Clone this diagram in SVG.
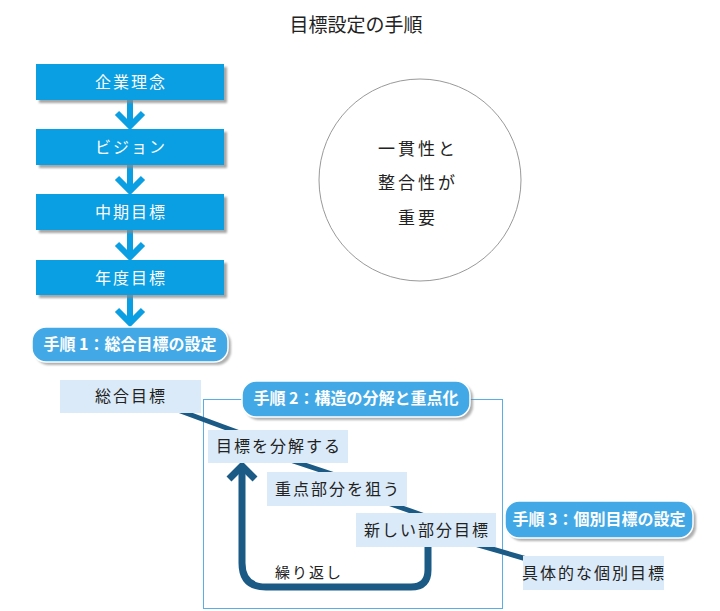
<svg xmlns="http://www.w3.org/2000/svg" width="720" height="611" viewBox="0 0 720 611">
<defs>
<style>
.t{font-family:"Noto Sans CJK JP","Noto Sans",sans-serif;}
.box{fill:#0a9ee2;}
.shd{fill:#8a8a8a;opacity:0.75;}
.bt{fill:#ffffff;font-size:16px;letter-spacing:2px;text-anchor:middle;}
.lb{fill:#daeaf8;}
.lt{fill:#222222;font-size:16px;letter-spacing:2px;text-anchor:middle;}
.pill{fill:#43a9e6;stroke:#ffffff;stroke-width:1.5;}
.pshd{fill:#7a7a7a;opacity:0.6;}
.pt{fill:#ffffff;font-size:16px;font-weight:bold;text-anchor:middle;}
.arr{fill:none;stroke:#0a9ee2;stroke-width:6;}
.dk{stroke:#1b5a84;stroke-width:5;fill:none;}
</style>
<filter id="blur" x="-10%" y="-10%" width="130%" height="140%"><feGaussianBlur stdDeviation="1.2"/></filter>
</defs>

<text class="t" x="356" y="32" font-size="19" text-anchor="middle" fill="#222">目標設定の手順</text>

<g id="frame">
<rect x="203.5" y="399.5" width="299" height="209" fill="none" stroke="#5aaee6" stroke-width="1"/>
</g>

<g id="connectors">
<path class="arr" d="M130,100 V125 M117,113 L130,126 L143,113"/>
<path class="arr" d="M130,165 V190 M117,178 L130,191 L143,178"/>
<path class="arr" d="M130,230 V256 M117,244 L130,257 L143,244"/>
<path class="arr" d="M130,295 V322 M117,310 L130,323 L143,310"/>
<line class="dk" x1="175" y1="409" x2="240" y2="433"/>
<line class="dk" x1="290" y1="460" x2="335" y2="475"/>
<line class="dk" x1="385" y1="502" x2="425" y2="516"/>
<line class="dk" x1="475" y1="544" x2="530" y2="560"/>
<path d="M428,547 V570 Q428,587 411,587 H266 Q242,587 242,563 V468" fill="none" stroke="#1b5a84" stroke-width="7"/>
<path d="M229,479 L242,466 L255,479" fill="none" stroke="#1b5a84" stroke-width="7"/>
</g>

<g id="n1"><rect class="shd" x="39" y="67" width="188" height="36" filter="url(#blur)"/><rect class="box" x="36" y="64" width="188" height="36"/><text class="t bt" x="131" y="88">企業理念</text></g>
<g id="n2"><rect class="shd" x="39" y="132" width="188" height="36" filter="url(#blur)"/><rect class="box" x="36" y="129" width="188" height="36"/><text class="t bt" x="131" y="153">ビジョン</text></g>
<g id="n3"><rect class="shd" x="39" y="197" width="188" height="36" filter="url(#blur)"/><rect class="box" x="36" y="194" width="188" height="36"/><text class="t bt" x="131" y="218">中期目標</text></g>
<g id="n4"><rect class="shd" x="39" y="263" width="188" height="35" filter="url(#blur)"/><rect class="box" x="36" y="260" width="188" height="35"/><text class="t bt" x="131" y="284">年度目標</text></g>

<g id="step1"><rect class="pshd" x="35" y="330" width="196" height="35" rx="14" filter="url(#blur)"/><rect class="pill" x="32" y="327" width="196" height="35" rx="14"/><text class="t pt" x="130" y="350">手順 1：総合目標の設定</text></g>

<g id="circle"><circle cx="420" cy="180" r="101" fill="#fff" stroke="#999" stroke-width="1"/>
<text class="t" x="418" y="155" font-size="17" letter-spacing="3" text-anchor="middle" fill="#222">一貫性と</text>
<text class="t" x="418" y="189" font-size="17" letter-spacing="3" text-anchor="middle" fill="#222">整合性が</text>
<text class="t" x="418" y="224" font-size="17" letter-spacing="3" text-anchor="middle" fill="#222">重要</text></g>

<g id="b1"><rect class="lb" x="60" y="380" width="141" height="33"/><text class="t lt" x="131" y="402">総合目標</text></g>
<g id="step2"><rect class="pshd" x="245" y="384" width="228" height="36" rx="14" filter="url(#blur)"/><rect class="pill" x="242" y="381" width="228" height="36" rx="14"/><text class="t pt" x="356" y="404">手順 2：構造の分解と重点化</text></g>
<g id="b2"><rect class="lb" x="208" y="430" width="140" height="33"/><text class="t lt" x="279" y="452">目標を分解する</text></g>
<g id="b3"><rect class="lb" x="267" y="472" width="140" height="34"/><text class="t lt" x="338" y="495">重点部分を狙う</text></g>
<g id="b4"><rect class="lb" x="356" y="513" width="140" height="34"/><text class="t lt" x="427" y="536">新しい部分目標</text></g>
<g id="step3"><rect class="pshd" x="508" y="504" width="188" height="37" rx="14" filter="url(#blur)"/><rect class="pill" x="505" y="501" width="188" height="37" rx="14"/><text class="t pt" x="599" y="525">手順 3：個別目標の設定</text></g>
<g id="b5"><rect class="lb" x="523" y="556" width="141" height="34"/><text class="t lt" x="594" y="579">具体的な個別目標</text></g>
<g id="loop"><text class="t" x="275" y="578" font-size="15" letter-spacing="2" fill="#222">繰り返し</text></g>
</svg>
